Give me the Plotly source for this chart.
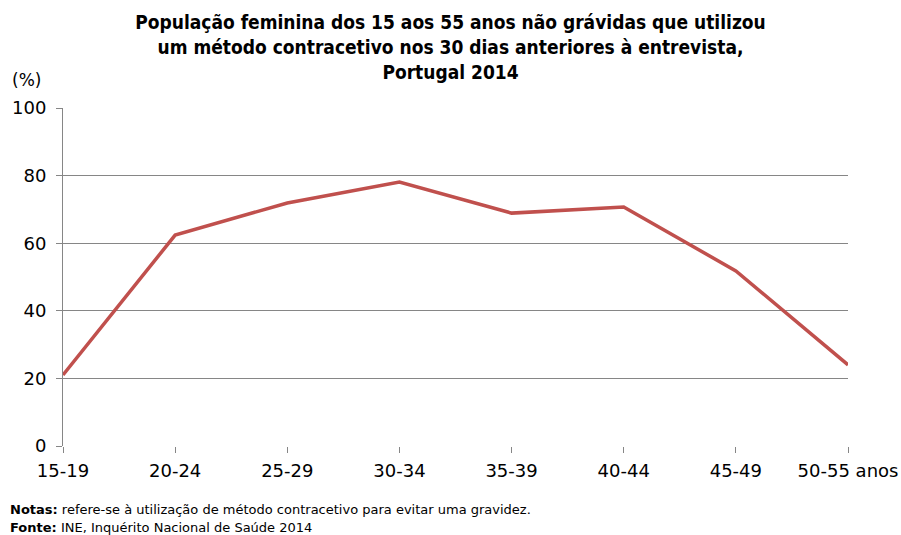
import plotly.graph_objects as go

categories = ["15-19", "20-24", "25-29", "30-34", "35-39", "40-44", "45-49", "50-55"]
tick_labels = ["15-19", "20-24", "25-29", "30-34", "35-39", "40-44", "45-49", "50-55 anos"]
values = [21.0, 62.4, 71.9, 78.1, 68.9, 70.7, 51.8, 24.0]

FONT = "DejaVu Sans, sans-serif"
TFONT = "DejaVu Sans Condensed, DejaVu Sans, sans-serif"

fig = go.Figure()
fig.add_trace(go.Scatter(
    x=list(range(len(categories))), y=values, mode="lines",
    line=dict(color="#C0504D", width=3.5),
    hoverinfo="skip", showlegend=False,
))

fig.update_layout(
    width=901, height=535,
    margin=dict(l=63, r=53, t=108, b=89),
    paper_bgcolor="white", plot_bgcolor="white",
    font=dict(family=FONT, size=18, color="black"),
    title=dict(
        text="<b>População feminina dos 15 aos 55 anos não grávidas que utilizou<br>"
             "um método contracetivo nos 30 dias anteriores à entrevista,<br>Portugal 2014</b>",
        x=0.5, xanchor="center", y=0.945, yanchor="top",
        font=dict(family=TFONT, size=19, color="black"),
    ),
    xaxis=dict(
        range=[0, 7], tickmode="array", tickvals=list(range(len(categories))),
        ticktext=tick_labels, showgrid=False, zeroline=False,
        showline=False, ticks="outside", ticklen=6, tickcolor="#868686",
        tickfont=dict(size=18), ticklabelstandoff=2, fixedrange=True,
        automargin=False,
    ),
    yaxis=dict(
        range=[0, 100], tickvals=[0, 20, 40, 60, 80, 100],
        showgrid=True, gridcolor="#868686", gridwidth=1, zeroline=False,
        showline=True, linecolor="#868686", linewidth=1,
        ticks="outside", ticklen=6, tickcolor="#868686",
        tickfont=dict(size=18), ticklabelstandoff=6, fixedrange=True,
        automargin=False,
    ),
    annotations=[
        dict(text="(%)", xref="paper", yref="paper", x=-0.068, y=1.083,
             xanchor="left", yanchor="middle", showarrow=False,
             font=dict(family=FONT, size=17)),
        dict(text="<b>Notas:</b> refere-se à utilização de método contracetivo para evitar uma gravidez.",
             xref="paper", yref="paper", x=-0.070, y=-0.189, xanchor="left", yanchor="middle",
             showarrow=False, font=dict(family=FONT, size=13)),
        dict(text="<b>Fonte:</b> INE, Inquérito Nacional de Saúde 2014",
             xref="paper", yref="paper", x=-0.070, y=-0.240, xanchor="left", yanchor="middle",
             showarrow=False, font=dict(family=FONT, size=13)),
    ],
)

fig.write_html("out.html", config={"displayModeBar": False},
               post_script="document.body.style.margin='0';document.body.style.padding='0';")
